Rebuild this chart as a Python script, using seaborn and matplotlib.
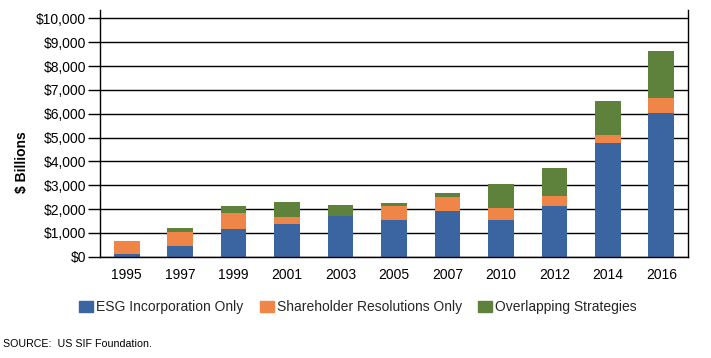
import matplotlib
matplotlib.use("Agg")
import matplotlib.pyplot as plt
import seaborn as sns
import pandas as pd
import numpy as np
from matplotlib.patches import Patch

years = ['1995', '1997', '1999', '2001', '2003', '2005', '2007', '2010', '2012', '2014', '2016']
esg = [110, 450, 1160, 1370, 1710, 1540, 1920, 1540, 2130, 4780, 6040]
shareholder = [560, 590, 680, 300, 0, 590, 590, 500, 420, 340, 630]
overlap = [0, 170, 300, 630, 460, 130, 170, 1010, 1180, 1400, 1980]
series_names = ['ESG Incorporation Only', 'Shareholder Resolutions Only', 'Overlapping Strategies']
colors = ['#3A65A0', '#EF8546', '#5E823C']

sns.set_theme(style="white")
plt.rcParams['font.family'] = ['Liberation Sans', 'DejaVu Sans']

df = pd.DataFrame({'year': years, 'esg': esg, 'sh': shareholder, 'ov': overlap})
df['c1'] = df['esg']
df['c2'] = df['esg'] + df['sh']
df['c3'] = df['c2'] + df['ov']

fig = plt.figure(figsize=(7.11, 3.58), dpi=100)
ax = fig.add_axes([100/711, 1 - 256.7/358, 588/711, 246.6/358])

for col, c in zip(['c3', 'c2', 'c1'], colors[::-1]):
    sns.barplot(data=df, x='year', y=col, color=c, width=0.48, saturation=1,
                ax=ax, linewidth=0, edgecolor=c, zorder=2)

ax.set_xlim(-0.5, len(years) - 0.5)
ax.set_ylim(0, 10350)
ax.set_yticks(np.arange(0, 10001, 1000))
ax.set_yticklabels([f"${v:,.0f}" for v in np.arange(0, 10001, 1000)], fontsize=10, color='black')
ax.yaxis.grid(True, color='black', linewidth=1.0, zorder=0)
ax.set_axisbelow(True)

ax.set_xticks(range(len(years)))
ax.set_xticklabels(years, fontsize=10, color='black')
ax.tick_params(axis='x', which='major', length=0, pad=8)
ax.set_xticks(np.arange(-0.5, len(years), 1.0), minor=True)
ax.tick_params(axis='x', which='minor', length=11, width=1.0, direction='inout', color='black')
ax.tick_params(axis='y', length=9, width=1.0, direction='out', color='black', pad=1, left=True)

for s in ['left', 'right', 'bottom']:
    ax.spines[s].set_visible(True)
    ax.spines[s].set_color('black')
    ax.spines[s].set_linewidth(1.0)
ax.spines['top'].set_visible(False)

ax.set_xlabel('')
ax.set_ylabel('')
fig.text(22/711, 1 - 162/358, '$ Billions', rotation=90, fontsize=10, fontweight='bold',
         ha='center', va='center', color='black')

handles = [Patch(facecolor=c, edgecolor=c, label=n) for c, n in zip(colors, series_names)]
fig.legend(handles=handles, loc='center', bbox_to_anchor=(358/711, 1 - 307/358), ncol=3,
           frameon=False, fontsize=10, handlelength=1.0, handleheight=0.86,
           handletextpad=0.2, columnspacing=1.2)

fig.text(3/711, 1 - 344/358, 'SOURCE:  US SIF Foundation.', fontsize=7.7, ha='left', va='center', color='black')

fig.savefig('out.png', dpi=100)
